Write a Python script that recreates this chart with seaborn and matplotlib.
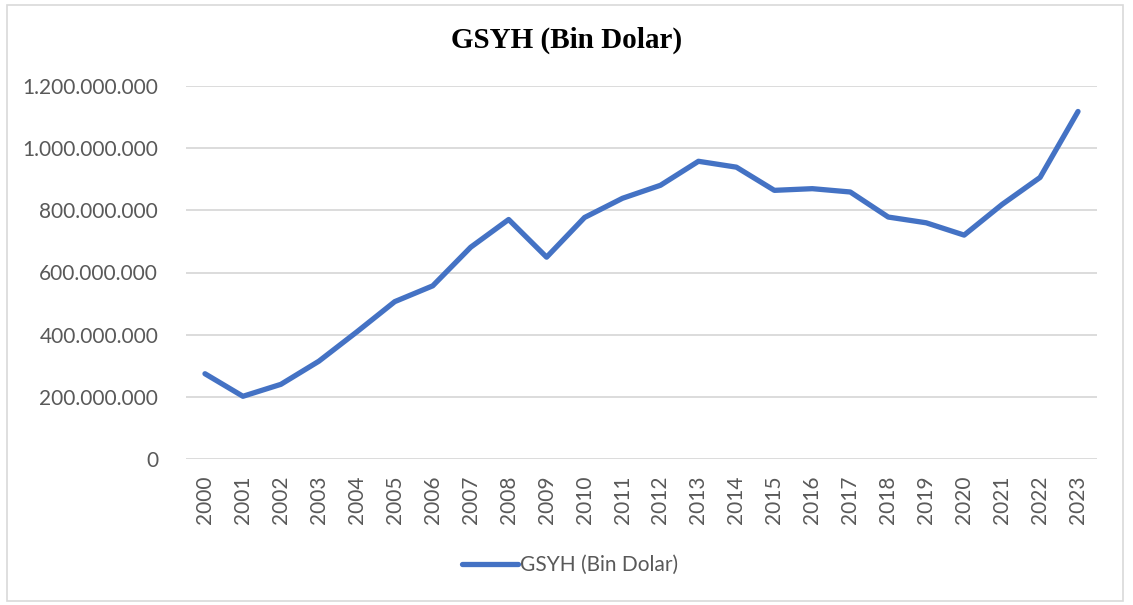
import matplotlib.pyplot as plt
import matplotlib.ticker as mticker
import pandas as pd
import seaborn as sns
from matplotlib.patches import Rectangle

years = [str(y) for y in range(2000, 2024)]
gsyh = [
    274_300_000, 201_750_000, 240_250_000, 314_600_000, 408_900_000, 506_300_000,
    557_100_000, 681_300_000, 770_500_000, 649_300_000, 777_000_000, 838_800_000,
    880_600_000, 957_800_000, 938_900_000, 864_300_000, 869_700_000, 859_000_000,
    778_400_000, 759_900_000, 720_300_000, 819_000_000, 905_800_000, 1_118_000_000,
]
series_name = "GSYH (Bin Dolar)"
yticks = [0, 200_000_000, 400_000_000, 600_000_000, 800_000_000, 1_000_000_000, 1_200_000_000]

df = pd.DataFrame({"Yil": years, "Deger": gsyh})

sns.set_theme(style="white")
plt.rcParams["font.family"] = ["Lato", "DejaVu Sans"]

fig = plt.figure(figsize=(11.33, 6.05), dpi=100)
ax = fig.add_axes([186 / 1133, 1 - 459 / 605, (1097 - 186) / 1133, (459 - 86) / 605])

sns.lineplot(data=df, x="Yil", y="Deger", color="#4472C4", linewidth=3.8,
             label=series_name, sort=False, ax=ax)
for line in ax.get_lines():
    line.set_solid_capstyle("round")
    line.set_solid_joinstyle("round")

ax.set_xlim(-0.5, len(years) - 0.5)
ax.set_ylim(0, 1_200_000_000)
ax.set_yticks(yticks)
ax.yaxis.set_major_formatter(mticker.FuncFormatter(lambda v, p: f"{int(v):,}".replace(",", ".")))
ax.grid(axis="y", color="#D9D9D9", linewidth=1.3)
ax.set_axisbelow(True)
for s in ax.spines.values():
    s.set_visible(False)
ax.tick_params(axis="both", length=0, colors="#595959", labelsize=15)
ax.tick_params(axis="y", pad=20)
ax.tick_params(axis="x", pad=12)
plt.setp(ax.get_xticklabels(), rotation=90)
ax.set_xlabel("")
ax.set_ylabel("")

ax.legend(loc="center", bbox_to_anchor=(570 / 1133, 1 - 565 / 605), bbox_transform=fig.transFigure,
          frameon=False, fontsize=15, labelcolor="#595959", handlelength=2.7, handletextpad=0.1)

fig.text(567 / 1133, 1 - 40 / 605, series_name, ha="center", va="center", fontsize=21,
         fontweight="bold", family=["Liberation Serif", "DejaVu Serif"], color="black")

fig.patches.append(Rectangle((6.5 / 1133, 4.5 / 605), (1123 - 6.5) / 1133, (600.5 - 4.5) / 605,
                             transform=fig.transFigure, fill=False, edgecolor="#D9D9D9", linewidth=1.2))

fig.savefig("out.png", dpi=100)
